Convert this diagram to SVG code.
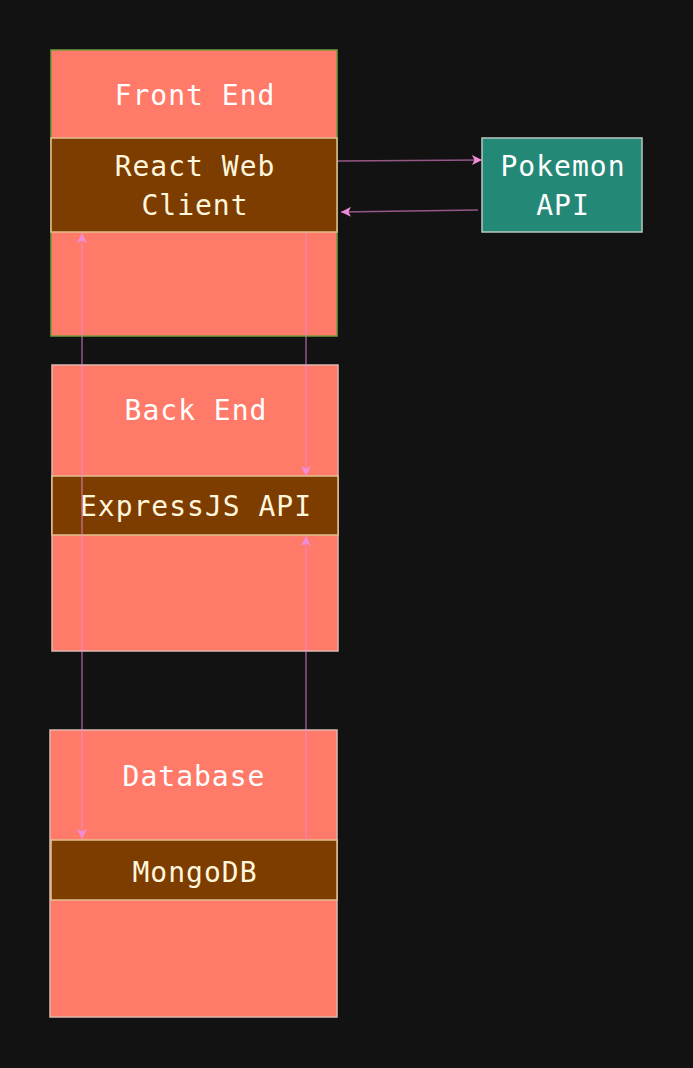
<svg xmlns="http://www.w3.org/2000/svg" width="693" height="1068" viewBox="0 0 693 1068">
<defs>
<style>
.lbl{font-family:"DejaVu Sans Mono","Liberation Mono",monospace;font-size:28px;letter-spacing:1px;fill:#ffffff;text-anchor:middle;dominant-baseline:central}
.inner{fill:#fff6dc}
.layer{fill:#ff7a69}
.comp{fill:#7d3c00;stroke:#e2c08f;stroke-width:1.5}
.conn{stroke:#ec86d3;stroke-opacity:0.6;stroke-width:1.5;fill:none}
</style>
<marker id="ah" viewBox="0 0 10 10" refX="10" refY="5" markerWidth="10" markerHeight="10" markerUnits="userSpaceOnUse" orient="auto-start-reverse">
<path d="M0,0 L10,5 L0,10 L2.5,5 Z" fill="#f08cd8"/>
</marker>
</defs>
<rect width="693" height="1068" fill="#121212"/>

<g id="front-end">
<rect class="layer" x="51" y="50" width="286" height="286" stroke="#7a9a3c" stroke-width="1.5"/>
<text class="lbl" x="195" y="95">Front End</text>
</g>
<g id="react-web-client">
<rect class="comp" x="51" y="138" width="286" height="94"/>
<text class="lbl inner" x="195" y="166">React Web</text>
<text class="lbl inner" x="195" y="205">Client</text>
</g>
<g id="pokemon-api">
<rect x="482" y="138" width="160" height="94" fill="#248877" stroke="#b8c8c0" stroke-width="1.5"/>
<text class="lbl" x="563" y="166">Pokemon</text>
<text class="lbl" x="563" y="205">API</text>
</g>
<g id="back-end">
<rect class="layer" x="52" y="365" width="286" height="286" stroke="#e0b8b0" stroke-width="1.5"/>
<text class="lbl" x="196" y="410">Back End</text>
</g>
<g id="expressjs-api">
<rect class="comp" x="52" y="476" width="286" height="59"/>
<text class="lbl inner" x="196" y="506">ExpressJS API</text>
</g>
<g id="database">
<rect class="layer" x="50" y="730" width="287" height="287" stroke="#e0b8b0" stroke-width="1.5"/>
<text class="lbl" x="194" y="776">Database</text>
</g>
<g id="mongodb">
<rect class="comp" x="51" y="840" width="286" height="60"/>
<text class="lbl inner" x="195" y="872">MongoDB</text>
</g>

<g id="connectors">
<line class="conn" x1="338" y1="161" x2="482" y2="160" marker-end="url(#ah)"/>
<line class="conn" x1="478" y1="210" x2="341" y2="212" marker-end="url(#ah)"/>
<line class="conn" x1="82" y1="233" x2="82" y2="839" marker-start="url(#ah)" marker-end="url(#ah)"/>
<line class="conn" x1="306" y1="233" x2="306" y2="476" marker-end="url(#ah)"/>
<line class="conn" x1="306" y1="840" x2="306" y2="536" marker-end="url(#ah)"/>
</g>
</svg>
